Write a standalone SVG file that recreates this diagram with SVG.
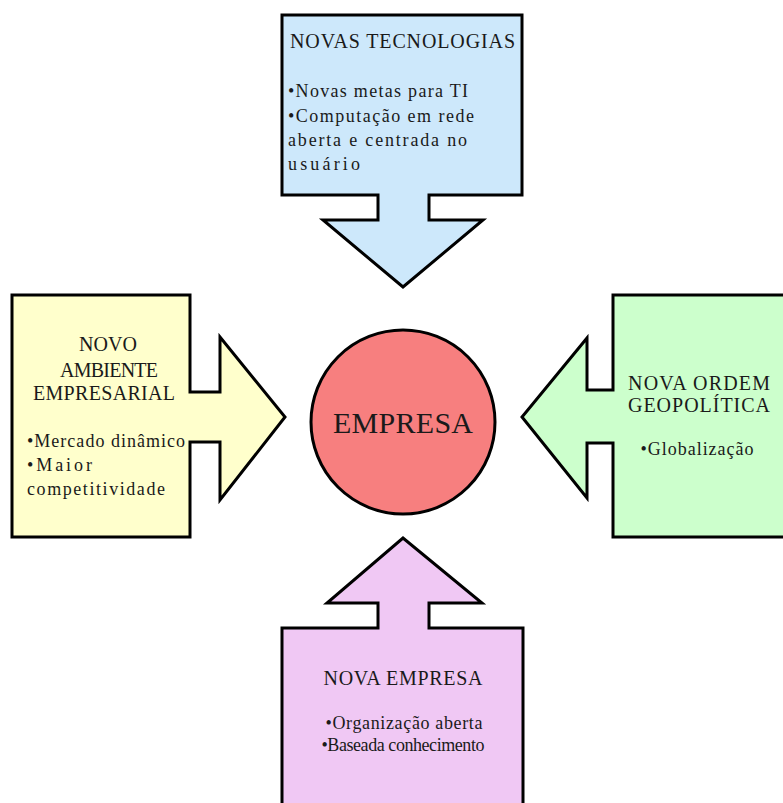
<svg xmlns="http://www.w3.org/2000/svg" width="783" height="803" viewBox="0 0 783 803">
<style>
.shape{stroke:#000;stroke-width:3;stroke-linejoin:miter}
text{font-family:'Liberation Serif','Times New Roman','DejaVu Serif',serif;fill:#1a1a1a}
.title{font-size:20px}
.body{font-size:18px}
.c{text-anchor:middle}
</style>
<rect width="783" height="803" fill="#fff"/>
<g id="connectors"></g>
<g id="novas-tecnologias">
<path class="shape" fill="#cde8fb" d="M282,15 H522 V195 H429 V220 H483 L403,287 L323,220 H378 V195 H282 Z"/>
<text class="title" x="290" y="48" textLength="225">NOVAS TECNOLOGIAS</text>
<text class="body" x="288" y="97" textLength="180">•Novas metas para TI</text>
<text class="body" x="288" y="122" textLength="186">•Computação em rede</text>
<text class="body" x="288" y="146" textLength="179">aberta e centrada no</text>
<text class="body" x="288" y="170" textLength="72">usuário</text>
</g>
<g id="novo-ambiente">
<path class="shape" fill="#ffffcc" d="M12,295 H190 V392 H220 V337 L285,417 L220,500 V442 H190 V537 H12 Z"/>
<text class="title c" x="108" y="351" textLength="58">NOVO</text>
<text class="title c" x="109" y="377" textLength="98">AMBIENTE</text>
<text class="title c" x="104" y="400" textLength="142">EMPRESARIAL</text>
<text class="body" x="27" y="447" textLength="158">•Mercado dinâmico</text>
<text class="body" x="27" y="471" textLength="65">•Maior</text>
<text class="body" x="27" y="495" textLength="138">competitividade</text>
</g>
<g id="nova-ordem">
<path class="shape" fill="#ccffcc" d="M792,295 H613 V390 H587 V338 L522,417 L587,498 V443 H613 V537 H792 Z"/>
<text class="title c" x="699" y="390" textLength="142">NOVA ORDEM</text>
<text class="title c" x="699" y="412" textLength="142">GEOPOLÍTICA</text>
<text class="body c" x="697" y="455" textLength="113">•Globalização</text>
</g>
<g id="nova-empresa">
<path class="shape" fill="#f0c8f4" d="M282,812 V628 H378 V603 H327 L403,538 L482,603 H429 V628 H523 V812 Z"/>
<text class="title c" x="403" y="685" textLength="159">NOVA EMPRESA</text>
<text class="body c" x="404" y="729" textLength="157">•Organização aberta</text>
<text class="body c" x="403" y="751" textLength="163">•Baseada conhecimento</text>
</g>
<g id="empresa">
<circle class="shape" cx="403" cy="422" r="92" fill="#f77f7f"/>
<text class="c" x="403" y="433" font-size="30" textLength="140">EMPRESA</text>
</g>
</svg>
